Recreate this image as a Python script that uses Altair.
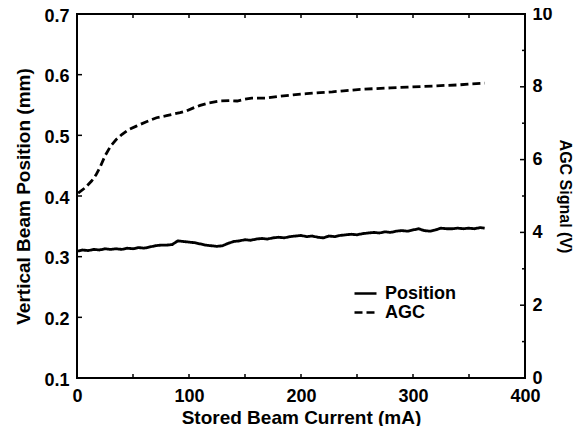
import altair as alt
import pandas as pd

# ---- data ----
current_pos = [0, 5, 10, 15, 20, 25, 30, 35, 40, 45, 50, 55, 60, 65, 70, 75, 80, 85,
               90, 95, 100, 105, 110, 115, 120, 125, 130, 135, 140, 145, 150, 155, 160,
               165, 170, 175, 180, 185, 190, 195, 200, 205, 210, 215, 220, 225, 230, 235,
               240, 245, 250, 255, 260, 265, 270, 275, 280, 285, 290, 295, 300, 305, 310,
               315, 320, 325, 330, 335, 340, 345, 350, 355, 360, 364]
position_mm = [0.309, 0.311, 0.310, 0.312, 0.311, 0.313, 0.312, 0.313, 0.312, 0.314,
               0.313, 0.315, 0.314, 0.316, 0.318, 0.319, 0.319, 0.320, 0.326, 0.325,
               0.324, 0.323, 0.321, 0.319, 0.318, 0.317, 0.318, 0.322, 0.325, 0.326,
               0.328, 0.327, 0.329, 0.330, 0.329, 0.331, 0.332, 0.331, 0.333, 0.334,
               0.335, 0.333, 0.334, 0.332, 0.331, 0.334, 0.333, 0.335, 0.336, 0.337,
               0.336, 0.338, 0.339, 0.340, 0.339, 0.341, 0.340, 0.342, 0.343, 0.342,
               0.344, 0.346, 0.343, 0.342, 0.344, 0.347, 0.346, 0.346, 0.347, 0.346,
               0.347, 0.346, 0.348, 0.347]

current_agc = [1, 7, 13, 17, 21, 25, 30, 35, 40, 46, 53, 62, 71, 79, 86, 92, 98, 104,
               110, 118, 128, 136, 143, 150, 156, 169, 181, 193, 205, 217, 228, 238,
               253, 266, 280, 295, 310, 318, 330, 340, 352, 364]
agc_v = [5.08, 5.22, 5.41, 5.58, 5.82, 6.10, 6.37, 6.55, 6.69, 6.82, 6.92, 7.04, 7.15,
         7.20, 7.25, 7.29, 7.34, 7.42, 7.49, 7.56, 7.61, 7.62, 7.61, 7.66, 7.69, 7.69,
         7.74, 7.78, 7.81, 7.84, 7.86, 7.89, 7.93, 7.95, 7.97, 7.99, 8.01, 8.02, 8.04,
         8.05, 8.08, 8.10]

x_label_values = [0, 100, 200, 300, 400]
x_tick_values = [50, 100, 150, 200, 250, 300, 350]
left_label_values = [0.1, 0.2, 0.3, 0.4, 0.5, 0.6, 0.7]
left_tick_values = [0.2, 0.3, 0.4, 0.5, 0.6]
right_label_values = [0, 2, 4, 6, 8, 10]
right_major_ticks = [2, 4, 6, 8]
right_minor_ticks = [1, 3, 5, 7, 9]
series_names = ["Position", "AGC"]

W, H = 448, 364
FONT = "Liberation Sans"

pos_df = pd.DataFrame({"current": current_pos, "value": position_mm, "series": "Position"})
agc_df = pd.DataFrame({"current": current_agc, "value": agc_v, "series": "AGC"})

x_scale = alt.Scale(domain=[0, 400], nice=False)
x_axis = alt.Axis(values=x_label_values, title="Stored Beam Current (mA)",
                  labelFlush=False, labelPadding=9, titlePadding=3, titleFontSize=19)
x_enc = alt.X("current:Q", scale=x_scale, axis=x_axis)

left_scale = alt.Scale(domain=[0.1, 0.7], nice=False, zero=False)
left_axis = alt.Axis(orient="left", values=left_label_values, format=".1f",
                     title="Vertical Beam Position (mm)", labelPadding=8,
                     labelOffset=2, titlePadding=10, titleFontSize=19)
left_enc = alt.Y("value:Q", scale=left_scale, axis=left_axis)

right_scale = alt.Scale(domain=[0, 10], nice=False, zero=False)
right_axis = alt.Axis(orient="right", values=right_label_values, format="d",
                      title="AGC Signal (V)", labelPadding=7,
                      titlePadding=4, titleFontSize=16)
right_enc = alt.Y("value:Q", scale=right_scale, axis=right_axis)

dash = alt.StrokeDash(
    "series:N",
    scale=alt.Scale(domain=series_names, range=[[1, 0], [8, 4]]),
    legend=alt.Legend(
        title=None, orient="none", legendX=276, legendY=271,
        symbolType="stroke", symbolSize=484, symbolStrokeWidth=2.6,
        symbolStrokeColor="black", labelFont=FONT, labelFontSize=18,
        labelFontWeight="bold", labelColor="black", labelOffset=7,
        clipHeight=17, rowPadding=0, padding=0,
    ),
)

pos_line = alt.Chart(pos_df).mark_line(color="black", strokeWidth=2.8).encode(
    x=x_enc, y=left_enc, strokeDash=dash,
)

left_ticks = alt.Chart(pd.DataFrame({"value": left_tick_values})).mark_rule(
    color="black", strokeWidth=1.5).encode(
    y=left_enc, x=alt.value(0), x2=alt.value(5),
)

agc_line = alt.Chart(agc_df).mark_line(color="black", strokeWidth=2.8).encode(
    x=x_enc, y=right_enc, strokeDash=dash,
)

right_major = alt.Chart(pd.DataFrame({"value": right_major_ticks})).mark_rule(
    color="black", strokeWidth=1.5).encode(
    y=right_enc, x=alt.value(W), x2=alt.value(W - 5),
)
right_minor = alt.Chart(pd.DataFrame({"value": right_minor_ticks})).mark_rule(
    color="black", strokeWidth=1.5).encode(
    y=right_enc, x=alt.value(W), x2=alt.value(W - 3),
)

x_ticks_df = pd.DataFrame({"current": x_tick_values})
bottom_ticks = alt.Chart(x_ticks_df).mark_rule(color="black", strokeWidth=1.5).encode(
    x=x_enc, y=alt.value(H), y2=alt.value(H - 4),
)
top_ticks = alt.Chart(x_ticks_df).mark_rule(color="black", strokeWidth=1.5).encode(
    x=x_enc, y=alt.value(0), y2=alt.value(4),
)

left_layer = alt.layer(pos_line, left_ticks, bottom_ticks, top_ticks)
right_layer = alt.layer(agc_line, right_major, right_minor)

chart = alt.layer(left_layer, right_layer).resolve_scale(
    y="independent"
).properties(
    width=W, height=H, autosize="none",
    padding={"left": 69, "top": 6, "right": 54, "bottom": 48},
    background="white",
).configure_view(
    stroke="black", strokeWidth=2
).configure_axis(
    domain=False, grid=False, ticks=False, tickSize=0,
    labelFont=FONT, labelFontSize=18, labelFontWeight="bold", labelColor="black",
    titleFont=FONT, titleFontWeight="bold", titleColor="black",
)

chart.save("out.html", embed_options={"renderer": "svg", "actions": False})
